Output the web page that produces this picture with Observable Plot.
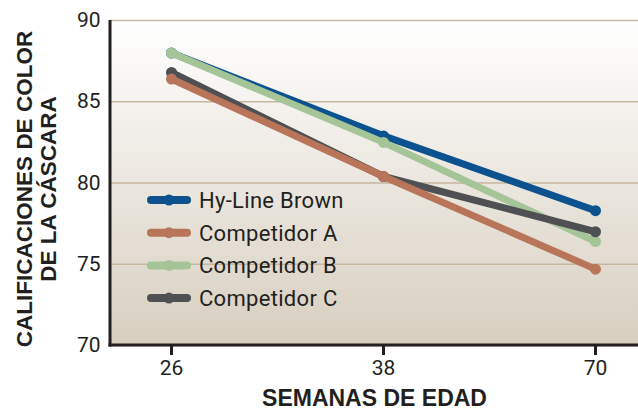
<!DOCTYPE html>
<html><head><meta charset="utf-8">
<script src="https://cdn.jsdelivr.net/npm/d3@7"></script>
<script src="https://cdn.jsdelivr.net/npm/@observablehq/plot@0.6"></script>
<style>html,body{margin:0;padding:0;background:#fff}svg{display:block}</style>
</head><body><div id="chart"></div>
<script>
const weeks = ["26", "38", "70"];
const seriesNames = ["Hy-Line Brown", "Competidor A", "Competidor B", "Competidor C"];
const hyLine = [88.0, 82.9, 78.3];
const compA = [86.4, 80.4, 74.7];
const compB = [88.0, 82.5, 76.4];
const compC = [86.8, 80.4, 77.0];
const yTicks = [70, 75, 80, 85, 90];
const colors = ["#0c528e", "#b8755a", "#a5c598", "#4e5054"];
const drawOrder = ["Hy-Line Brown", "Competidor B", "Competidor C", "Competidor A"];
const yTitle = "CALIFICACIONES DE COLOR\nDE LA CÁSCARA";
const xTitle = "SEMANAS DE EDAD";

const valuesBySeries = {
  "Hy-Line Brown": hyLine,
  "Competidor A": compA,
  "Competidor B": compB,
  "Competidor C": compC
};
const rows = drawOrder.flatMap(s => weeks.map((w, i) => ({series: s, week: w, value: valuesBySeries[s][i]})));

const NARROW = 'Roboto, "Liberation Sans", sans-serif';
const BOLD = '"Liberation Sans", Arial, sans-serif';
const INK = "#231f20";

const defsMark = () => {
  const defs = d3.create("svg:defs");
  const g = defs.append("linearGradient").attr("id", "bgGrad").attr("x1", 0).attr("y1", 0).attr("x2", 0).attr("y2", 1);
  g.append("stop").attr("offset", "0%").attr("stop-color", "#ffffff");
  g.append("stop").attr("offset", "100%").attr("stop-color", "#d7cebf");
  return defs.node();
};

const frameLines = (index, scales, values, dims) => {
  const g = d3.create("svg:g");
  const x0 = dims.marginLeft, y0 = dims.marginTop, y1 = dims.height - dims.marginBottom, x1 = dims.width - dims.marginRight;
  g.append("line").attr("x1", x0).attr("x2", x0).attr("y1", y0).attr("y2", y1 + 1.5)
    .attr("stroke", INK).attr("stroke-width", 3);
  g.append("line").attr("x1", x0 - 1.5).attr("x2", x1).attr("y1", y1).attr("y2", y1)
    .attr("stroke", INK).attr("stroke-width", 3);
  return g.node();
};

const legendMark = (index, scales, values, dims) => {
  const g = d3.create("svg:g");
  const left = dims.marginLeft + 37;
  const top = dims.marginTop + 180;
  const step = 32.7;
  seriesNames.forEach((s, i) => {
    const y = top + i * step;
    const c = scales.color(s);
    g.append("line").attr("x1", left + 4).attr("x2", left + 40).attr("y1", y).attr("y2", y)
      .attr("stroke", c).attr("stroke-width", 8).attr("stroke-linecap", "round");
    g.append("circle").attr("cx", left + 22).attr("cy", y).attr("r", 5.5).attr("fill", c);
    g.append("text").attr("x", left + 52).attr("y", y).attr("dy", "0.36em")
      .attr("text-anchor", "start")
      .attr("font-family", NARROW).attr("font-size", 22).attr("letter-spacing", "0.3px")
      .attr("fill", INK).text(s);
  });
  return g.node();
};

const seriesMarks = drawOrder.flatMap(s => [
  Plot.line(rows.filter(d => d.series === s), {x: "week", y: "value", stroke: "series", strokeWidth: 7, strokeLinecap: "round", strokeLinejoin: "round"}),
  Plot.dot(rows.filter(d => d.series === s), {x: "week", y: "value", fill: "series", r: 5.5})
]);

const chart = Plot.plot({
  width: 638, height: 409,
  marginLeft: 110, marginRight: 0, marginTop: 20, marginBottom: 64,
  style: {fontFamily: NARROW, background: "transparent", overflow: "visible"},
  x: {type: "point", domain: weeks, range: [170, 595], padding: 0},
  y: {domain: [70, 90]},
  color: {domain: seriesNames, range: colors},
  marks: [
    defsMark,
    Plot.frame({fill: "url(#bgGrad)", stroke: "none"}),
    Plot.gridY(yTicks, {stroke: "#c6b7a1", strokeOpacity: 1, strokeWidth: 1.6}),
    Plot.axisY(yTicks, {tickSize: 0, tickPadding: 10, fontSize: 21, label: null, fill: INK}),
    Plot.axisX(weeks, {tickSize: 10, tickPadding: 5, fontSize: 21, label: null, stroke: INK, strokeWidth: 3, fill: INK}),
    frameLines,
    ...seriesMarks,
    legendMark,
    Plot.text([yTitle], {frameAnchor: "left", textAnchor: "middle", rotate: -90, dx: -74, dy: 6, lineAnchor: "middle", lineHeight: 1.08,
      fontSize: 22.5, fontWeight: "bold", fontFamily: BOLD, fill: INK, text: d => d}),
    Plot.text([xTitle], {frameAnchor: "bottom", dy: 60, lineAnchor: "bottom", fontSize: 23, fontWeight: "bold", fontFamily: BOLD, fill: INK, text: d => d})
  ]
});
document.getElementById("chart").appendChild(chart);
</script>
</body></html>
